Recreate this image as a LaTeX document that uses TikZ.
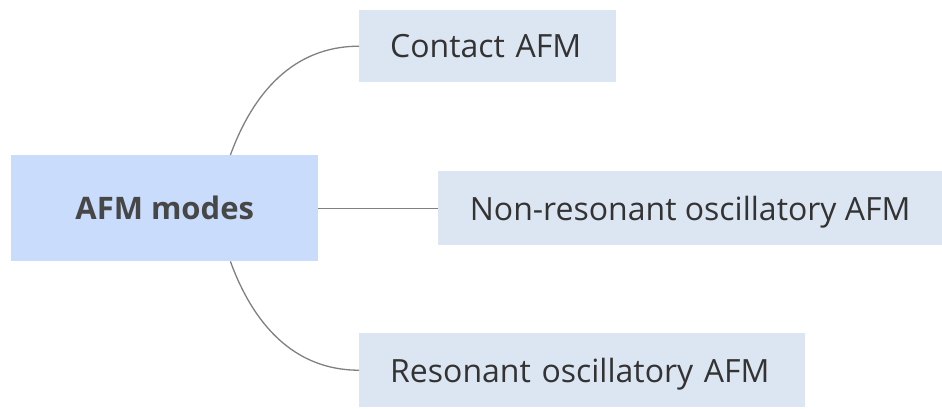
\documentclass[tikz,border=0pt]{standalone}
\usepackage{fontspec}
\setmainfont{Open Sans}
\definecolor{rootfill}{HTML}{C9DCFB}
\definecolor{leaffill}{HTML}{DCE5F2}
\definecolor{linkgray}{HTML}{808080}
\definecolor{rootink}{HTML}{474747}
\definecolor{leafink}{HTML}{333333}
\tikzset{
  rootbox/.style={fill=rootfill, text=rootink, font=\fontsize{31}{36}\selectfont\bfseries, inner sep=0pt, text depth=0pt, anchor=north west},
  leafbox/.style={fill=leaffill, text=leafink, font=\fontsize{32}{38}\selectfont, inner sep=0pt, text depth=0pt, anchor=north west},
  link/.style={linkgray, line width=1.3pt}
}
\begin{document}
\begin{tikzpicture}[x=1pt, y=-1pt]
    % Canvas
    \useasboundingbox (0,0) rectangle (942,408);

    % Central topic
    \node[rootbox, minimum width=307pt, minimum height=106pt] (modes) at (11,155) {AFM modes};

    % Branches
    \node[leafbox, minimum width=257pt, minimum height=72pt, text width=195pt, align=left] (contact) at (359,10) {Contact AFM};
    \node[leafbox, minimum width=504pt, minimum height=74pt] (nonres) at (438,171) {Non-resonant oscillatory AFM};
    \node[leafbox, minimum width=446pt, minimum height=74pt, text width=384pt, align=left] (res) at (359,333) {Resonant oscillatory AFM};

    % Connectors
    \draw[link] ([xshift=-88pt]modes.north east) to[out=70, in=180] (contact.west);
    \draw[link] (modes.east) -- (nonres.west);
    \draw[link] ([xshift=-88pt]modes.south east) to[out=-70, in=180] (res.west);
\end{tikzpicture}
\end{document}
